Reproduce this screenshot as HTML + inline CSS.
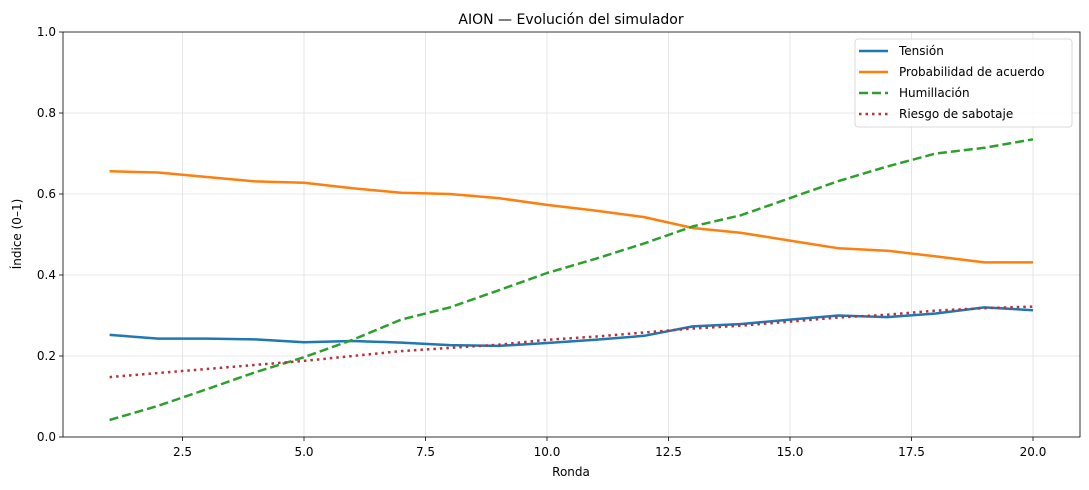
<!DOCTYPE html>
<html><head><meta charset="utf-8"><style>body{margin:0;background:#fff}svg{display:block;font-family:"DejaVu Sans","Liberation Sans",sans-serif}</style></head>
<body>
<svg width="1089" height="490" viewBox="0 0 1089 490" xmlns="http://www.w3.org/2000/svg">
<rect width="1089" height="490" fill="#fff"/>
<g stroke="#e0e0e0" stroke-width="0.8">
<line x1="182.5" y1="32" x2="182.5" y2="437"/><line x1="304" y1="32" x2="304" y2="437"/><line x1="425.5" y1="32" x2="425.5" y2="437"/><line x1="547" y1="32" x2="547" y2="437"/><line x1="668.5" y1="32" x2="668.5" y2="437"/><line x1="790" y1="32" x2="790" y2="437"/><line x1="911.5" y1="32" x2="911.5" y2="437"/><line x1="1033" y1="32" x2="1033" y2="437"/>
<line x1="63" y1="356" x2="1080" y2="356"/><line x1="63" y1="275" x2="1080" y2="275"/><line x1="63" y1="194" x2="1080" y2="194"/><line x1="63" y1="113" x2="1080" y2="113"/>
</g>
<g fill="none" stroke-width="2.5" stroke-linejoin="round">
<polyline stroke="#1f77b4" points="109.6,334.9 158.2,338.6 206.8,338.6 255.4,339.4 304,342.2 352.6,341 401.2,342.6 449.8,345.1 498.4,345.9 547,343 595.6,339.8 644.2,335.8 692.8,326.4 741.4,324 790,319.6 838.6,315.5 887.2,317.1 935.8,313.5 984.4,307.4 1033,310.2"/>
<polyline stroke="#ff7f0e" points="109.6,171.3 158.2,172.5 206.8,177 255.4,181.4 304,182.7 352.6,188.3 401.2,192.8 449.8,194 498.4,198.1 547,204.9 595.6,210.6 644.2,217.1 692.8,228 741.4,232.9 790,240.6 838.6,248.3 887.2,250.7 935.8,256.4 984.4,262.4 1033,262.4"/>
<polyline stroke="#2ca02c" stroke-dasharray="9,4" points="109.6,420 158.2,405.8 206.8,389.2 255.4,372.2 304,357.2 352.6,339.8 401.2,319.6 449.8,307.4 498.4,290.4 547,273 595.6,258.8 644.2,243.4 692.8,226.4 741.4,215.1 790,198.1 838.6,181 887.2,166.5 935.8,153.5 984.4,147.8 1033,139.3"/>
<polyline stroke="#b5343a" stroke-dasharray="2.5,4" points="109.6,377.1 158.2,373 206.8,369 255.4,364.9 304,360.9 352.6,356 401.2,351.1 449.8,347.9 498.4,344.7 547,339.8 595.6,336.6 644.2,332.5 692.8,328.5 741.4,325.6 790,321.6 838.6,317.5 887.2,314.7 935.8,310.6 984.4,308.2 1033,306.6"/>
</g>
<rect x="63" y="32" width="1017" height="405" fill="none" stroke="#000" stroke-width="0.8"/>
<g stroke="#000" stroke-width="0.8">
<line x1="182.5" y1="437" x2="182.5" y2="441"/><line x1="304" y1="437" x2="304" y2="441"/><line x1="425.5" y1="437" x2="425.5" y2="441"/><line x1="547" y1="437" x2="547" y2="441"/><line x1="668.5" y1="437" x2="668.5" y2="441"/><line x1="790" y1="437" x2="790" y2="441"/><line x1="911.5" y1="437" x2="911.5" y2="441"/><line x1="1033" y1="437" x2="1033" y2="441"/>
<line x1="59" y1="437" x2="63" y2="437"/><line x1="59" y1="356" x2="63" y2="356"/><line x1="59" y1="275" x2="63" y2="275"/><line x1="59" y1="194" x2="63" y2="194"/><line x1="59" y1="113" x2="63" y2="113"/><line x1="59" y1="32" x2="63" y2="32"/>
</g>
<g font-size="12" fill="#000" text-anchor="middle">
<text x="182.5" y="456">2.5</text><text x="304" y="456">5.0</text><text x="425.5" y="456">7.5</text><text x="547" y="456">10.0</text><text x="668.5" y="456">12.5</text><text x="790" y="456">15.0</text><text x="911.5" y="456">17.5</text><text x="1033" y="456">20.0</text>
<text x="571" y="476">Ronda</text>
<text x="571" y="24" font-size="14">AION — Evolución del simulador</text>
</g>
<g font-size="12" fill="#000" text-anchor="end">
<text x="56" y="441">0.0</text><text x="56" y="360">0.2</text><text x="56" y="279">0.4</text><text x="56" y="198">0.6</text><text x="56" y="117">0.8</text><text x="56" y="36">1.0</text>
</g>
<text transform="translate(21,234) rotate(-90)" font-size="12" text-anchor="middle">Índice (0–1)</text>
<rect x="855" y="39" width="217" height="88" rx="3" fill="#fff" fill-opacity="0.85" stroke="#d0d0d0" stroke-width="0.8"/>
<g stroke-width="2.5">
<line x1="859" y1="51" x2="888" y2="51" stroke="#1f77b4"/>
<line x1="859" y1="72" x2="888" y2="72" stroke="#ff7f0e"/>
<line x1="859" y1="93" x2="888" y2="93" stroke="#2ca02c" stroke-dasharray="9,4"/>
<line x1="859" y1="114" x2="888" y2="114" stroke="#b5343a" stroke-dasharray="2.5,4"/>
</g>
<g font-size="12" fill="#000">
<text x="899" y="55">Tensión</text><text x="899" y="76">Probabilidad de acuerdo</text><text x="899" y="97">Humillación</text><text x="899" y="118">Riesgo de sabotaje</text>
</g>
</svg>
</body></html>
